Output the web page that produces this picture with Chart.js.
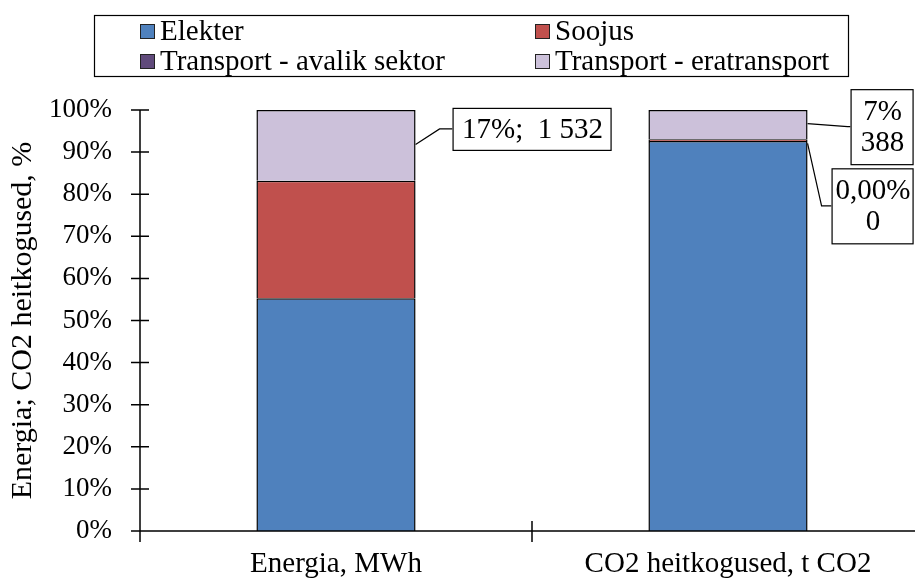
<!DOCTYPE html>
<html>
<head>
<meta charset="utf-8">
<script src="https://cdn.jsdelivr.net/npm/chart.js@4.4.0/dist/chart.umd.min.js"></script>
<style>
    html, body { margin: 0; padding: 0; background: #fff; overflow: hidden; }
    #wrap { width: 940px; height: 579px; position: relative; }
</style>
</head>
<body>
<div id="wrap"><canvas id="chart"></canvas></div>
<script>
// Chart data
const categories = ['Energia, MWh', 'CO2 heitkogused, t CO2'];
const seriesNames = ['Elekter', 'Soojus', 'Transport - avalik sektor', 'Transport - eratransport'];
const elekter = [5040, 5160];
const soojus = [2540, 22];
const avalikTransport = [0, 0];
const eraTransport = [1532, 388];
const yTickLabels = ['0%', '10%', '20%', '30%', '40%', '50%', '60%', '70%', '80%', '90%', '100%'];

const seriesValues = [elekter, soojus, avalikTransport, eraTransport];
const seriesColors = ['#4F81BD', '#C0504D', '#604A7B', '#CCC1DA'];

const FONT = '"Liberation Serif", "Times New Roman", serif';

// totals per category, used for 100% stacking
const totals = categories.map((c, i) => seriesValues.reduce((s, arr) => s + arr[i], 0));

function toPercent(arr) {
    return arr.map((v, i) => v / totals[i] * 100);
}

function formatNumber(v) {
    return Math.round(v).toString().replace(/\B(?=(\d{3})+(?!\d))/g, ' ');
}

function formatPercent(v) {
    if (v === 0) return '0,00%';
    return Math.round(v) + '%';
}

// data label boxes (dataset index, category index, placement)
const labelSpecs = [
    { ds: 3, idx: 0, oneLine: true, boxLeft: 37, boxW: 158, boxH: 42, dy: -16.5, elbow: 24, startDy: -1 },
    { ds: 3, idx: 1, oneLine: false, boxLeft: 43, boxW: 62, boxH: 75, dy: 2, elbow: 40, startDy: -1 },
    { ds: 2, idx: 1, oneLine: false, boxLeft: 24, boxW: 81, boxH: 75, dy: 66.5, elbow: 14, startDy: 4 }
];

// Legend drawn inside a framed box, two columns
const boxLegend = {
    id: 'boxLegend',
    afterDraw(chart) {
        const ctx = chart.ctx;
        ctx.save();
        ctx.strokeStyle = '#000';
        ctx.lineWidth = 1.2;
        ctx.strokeRect(94.5, 15.5, 754, 61);
        const cols = [140, 535];
        const rows = [31, 61];
        ctx.font = '29px ' + FONT;
        ctx.textBaseline = 'middle';
        ctx.textAlign = 'left';
        chart.data.datasets.forEach((ds, i) => {
            const x = cols[i % 2];
            const y = rows[Math.floor(i / 2)];
            ctx.fillStyle = ds.backgroundColor;
            ctx.fillRect(x, y - 7, 15, 15);
            ctx.lineWidth = 1;
            ctx.strokeStyle = '#222';
            ctx.strokeRect(x + 0.5, y - 6.5, 14, 14);
            ctx.fillStyle = '#000';
            ctx.fillText(ds.label, x + 20, y + 1);
        });
        ctx.restore();
    }
};

// Axis lines with tick marks crossing them
const crossAxes = {
    id: 'crossAxes',
    afterDatasetsDraw(chart) {
        const ctx = chart.ctx;
        const area = chart.chartArea;
        const xs = chart.scales.x;
        const ys = chart.scales.y;
        ctx.save();
        ctx.strokeStyle = '#000';
        ctx.lineWidth = 1.5;
        ctx.beginPath();
        ctx.moveTo(area.left, area.top);
        ctx.lineTo(area.left, area.bottom);
        ctx.lineTo(area.right, area.bottom);
        ys.ticks.forEach(t => {
            const y = ys.getPixelForValue(t.value);
            ctx.moveTo(area.left - 9, y);
            ctx.lineTo(area.left + 9, y);
        });
        for (let k = 0; k <= categories.length; k++) {
            const x = xs.getPixelForValue(k - 0.5);
            ctx.moveTo(x, area.bottom - 10);
            ctx.lineTo(x, area.bottom + 11);
        }
        ctx.stroke();
        ctx.restore();
    }
};

// Callout labels with leader lines
const calloutLabels = {
    id: 'calloutLabels',
    afterDatasetsDraw(chart) {
        const ctx = chart.ctx;
        ctx.save();
        ctx.font = '29px ' + FONT;
        ctx.textAlign = 'center';
        ctx.textBaseline = 'middle';
        labelSpecs.forEach(s => {
            const bar = chart.getDatasetMeta(s.ds).data[s.idx];
            const p = bar.getProps(['x', 'y', 'base', 'width'], true);
            const right = p.x + p.width / 2;
            const mid = (p.y + p.base) / 2;
            const boxX = right + s.boxLeft;
            const boxY = mid + s.dy;
            const raw = seriesValues[s.ds][s.idx];
            const pct = raw / totals[s.idx] * 100;
            const lines = s.oneLine
                ? [formatPercent(pct) + ';  ' + formatNumber(raw)]
                : [formatPercent(pct), formatNumber(raw)];

            ctx.strokeStyle = '#000';
            ctx.lineWidth = 1.2;
            ctx.beginPath();
            ctx.moveTo(right, mid + s.startDy);
            ctx.lineTo(right + s.elbow, boxY);
            ctx.lineTo(boxX, boxY);
            ctx.stroke();

            ctx.fillStyle = '#fff';
            ctx.fillRect(boxX, boxY - s.boxH / 2, s.boxW, s.boxH);
            ctx.strokeRect(boxX + 0.5, boxY - s.boxH / 2 + 0.5, s.boxW, s.boxH);

            ctx.fillStyle = '#000';
            const lh = 31;
            lines.forEach((t, i) => {
                const ty = boxY + (i - (lines.length - 1) / 2) * lh + 1;
                ctx.fillText(t, boxX + s.boxW / 2 + 1, ty);
            });
        });
        ctx.restore();
    }
};

const ctx = document.getElementById('chart').getContext('2d');
window.stackChart = new Chart(ctx, {
    type: 'bar',
    data: {
        labels: categories,
        datasets: seriesNames.map((name, i) => ({
            label: name,
            data: toPercent(seriesValues[i]),
            backgroundColor: seriesColors[i],
            borderColor: '#000',
            borderWidth: 1.5,
            barPercentage: 1,
            categoryPercentage: 0.406
        }))
    },
    options: {
        responsive: true,
        maintainAspectRatio: false,
        animation: false,
        layout: { padding: { top: 110, right: 16, left: 0, bottom: 0 } },
        plugins: {
            legend: { display: false },
            tooltip: { enabled: false }
        },
        scales: {
            x: {
                stacked: true,
                grid: { display: false, drawTicks: false },
                border: { display: false },
                ticks: {
                    color: '#000',
                    font: { family: FONT, size: 29 },
                    padding: 16,
                    maxRotation: 0
                },
                afterFit(scale) { scale.height = 48; }
            },
            y: {
                stacked: true,
                min: 0,
                max: 100,
                grid: { display: false, drawTicks: false },
                border: { display: false },
                ticks: {
                    stepSize: 10,
                    color: '#000',
                    font: { family: FONT, size: 27 },
                    padding: 28,
                    callback: (v, i) => yTickLabels[i]
                },
                title: {
                    display: true,
                    text: 'Energia; CO2 heitkogused, %',
                    color: '#000',
                    font: { family: FONT, size: 30 },
                    padding: { top: 5, bottom: 0 }
                },
                afterFit(scale) { scale.width = 140; }
            }
        }
    },
    plugins: [boxLegend, crossAxes, calloutLabels]
});
</script>
</body>
</html>
